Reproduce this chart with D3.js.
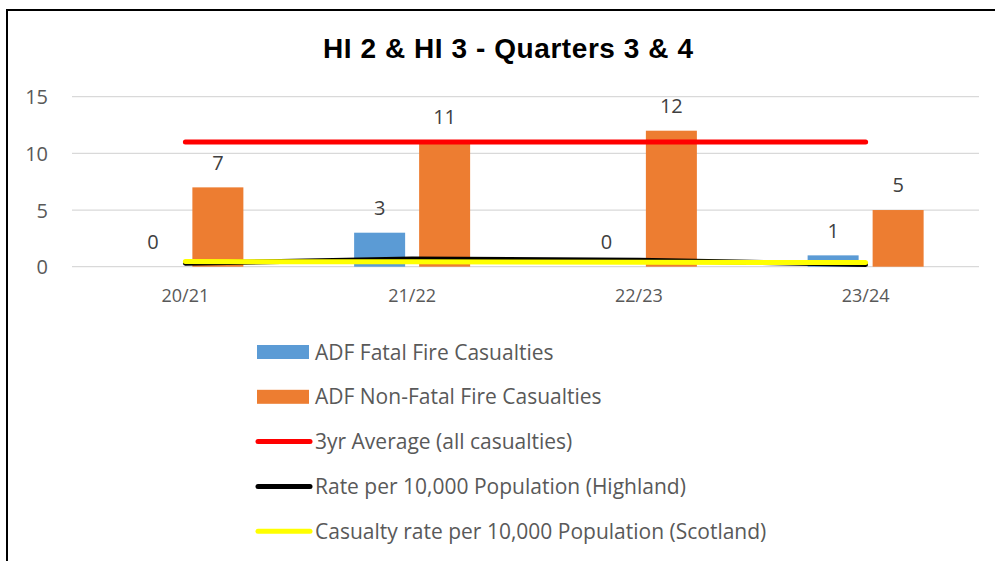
<!DOCTYPE html>
<html>
<head>
<meta charset="utf-8">
<script src="https://cdn.jsdelivr.net/npm/d3@7"></script>
<style>
  body { margin: 0; background: #fff; }
  svg { display: block; }
</style>
</head>
<body>
<svg id="chart" width="995" height="561"></svg>
<script>
// chart data
var TITLE = "HI 2 & HI 3 - Quarters 3 & 4";
var YEARS = ["20/21", "21/22", "22/23", "23/24"];
var FATAL = [0, 3, 0, 1];
var NON_FATAL = [7, 11, 12, 5];
var AVG_3YR = [11, 11, 11, 11];
var RATE_HIGHLAND = [0.3, 0.68, 0.58, 0.2];
var RATE_SCOTLAND = [0.45, 0.44, 0.4, 0.36];
var Y_TICKS = [0, 5, 10, 15];
var LEGEND = ["ADF Fatal Fire Casualties", "ADF Non-Fatal Fire Casualties",
    "3yr Average (all casualties)", "Rate per 10,000 Population (Highland)",
    "Casualty rate per 10,000 Population (Scotland)"];

var COLORS = ["#5b9bd5", "#ed7d31", "#ff0000", "#000000", "#ffff00"];
var FONT = "'Open Sans', 'Liberation Sans', sans-serif";

var svg = d3.select("#chart");

// frame (top + left edges only visible)
svg.append("line").attr("x1", 7).attr("y1", 10).attr("x2", 995).attr("y2", 10)
    .attr("stroke", "#000").attr("stroke-width", 2);
svg.append("line").attr("x1", 7).attr("y1", 9).attr("x2", 7).attr("y2", 561)
    .attr("stroke", "#000").attr("stroke-width", 2);

svg.append("text")
    .attr("x", 508).attr("y", 58)
    .attr("text-anchor", "middle")
    .style("font-family", "'Liberation Sans', Arial, sans-serif")
    .style("font-weight", "bold")
    .style("font-size", "28px")
    .attr("textLength", 370)
    .text(TITLE);

var xScale = d3.scaleBand().domain(YEARS).range([72, 979]);
var yScale = d3.scaleLinear().domain([0, 15]).range([266.7, 96.7]);
var barW = 51, gap = 14;

// gridlines
svg.append("g").selectAll("line").data(Y_TICKS).join("line")
    .attr("x1", 72).attr("x2", 979)
    .attr("y1", d => yScale(d)).attr("y2", d => yScale(d))
    .attr("stroke", "#d9d9d9").attr("stroke-width", 1.3);

// y axis labels
var yAxis = d3.axisLeft(yScale).tickValues(Y_TICKS).tickSize(0).tickPadding(0);
var ya = svg.append("g").attr("transform", "translate(48,0)").call(yAxis);
ya.select(".domain").remove();
ya.selectAll("text").attr("fill", "#595959")
    .style("font-family", FONT).style("font-size", "20px").attr("dy", "0.36em");

// x axis labels
var xAxis = d3.axisBottom(xScale).tickSize(0).tickPadding(0);
var xa = svg.append("g").attr("transform", "translate(0,289)").call(xAxis);
xa.select(".domain").remove();
xa.selectAll("text").attr("fill", "#595959")
    .style("font-family", FONT).style("font-size", "18px");

var mid = d => xScale(d) + xScale.bandwidth() / 2;

// bars
svg.append("g").selectAll("rect").data(YEARS).join("rect")
    .attr("x", d => mid(d) - gap / 2 - barW)
    .attr("y", (d, i) => yScale(FATAL[i]))
    .attr("width", barW)
    .attr("height", (d, i) => yScale(0) - yScale(FATAL[i]))
    .attr("fill", COLORS[0]);
svg.append("g").selectAll("rect").data(YEARS).join("rect")
    .attr("x", d => mid(d) + gap / 2)
    .attr("y", (d, i) => yScale(NON_FATAL[i]))
    .attr("width", barW)
    .attr("height", (d, i) => yScale(0) - yScale(NON_FATAL[i]))
    .attr("fill", COLORS[1]);

// lines
var line = d3.line().x((d, i) => mid(YEARS[i])).y(d => yScale(d));
[[AVG_3YR, COLORS[2]], [RATE_HIGHLAND, COLORS[3]], [RATE_SCOTLAND, COLORS[4]]].forEach(s => {
    svg.append("path").datum(s[0])
        .attr("d", line)
        .attr("fill", "none")
        .attr("stroke", s[1])
        .attr("stroke-width", 5)
        .attr("stroke-linecap", "round")
        .attr("stroke-linejoin", "round");
});

// data labels
var lbl = svg.append("g").style("font-family", FONT).style("font-size", "20px")
    .attr("fill", "#404040").attr("text-anchor", "middle");
lbl.selectAll(".f").data(YEARS).join("text").attr("class", "f")
    .attr("x", d => mid(d) - gap / 2 - barW / 2)
    .attr("y", (d, i) => yScale(FATAL[i]) - 25)
    .attr("dy", "0.36em")
    .text((d, i) => FATAL[i]);
lbl.selectAll(".n").data(YEARS).join("text").attr("class", "n")
    .attr("x", d => mid(d) + gap / 2 + barW / 2)
    .attr("y", (d, i) => yScale(NON_FATAL[i]) - 25)
    .attr("dy", "0.36em")
    .text((d, i) => NON_FATAL[i]);

// legend
var leg = svg.append("g").selectAll("g").data(LEGEND).join("g")
    .attr("transform", (d, i) => `translate(257, ${352 + i * 44.8})`);
leg.each(function(d, i) {
    var g = d3.select(this);
    if (i < 2) {
        g.append("rect").attr("x", 0).attr("y", -7).attr("width", 52).attr("height", 14)
            .attr("fill", COLORS[i]);
    } else {
        g.append("line").attr("x1", 1).attr("x2", 53).attr("y1", 0).attr("y2", 0)
            .attr("stroke", COLORS[i]).attr("stroke-width", 5).attr("stroke-linecap", "round");
    }
    g.append("text").attr("x", 58).attr("dy", "0.36em")
        .attr("fill", "#595959")
        .style("font-family", FONT).style("font-size", "21px")
        .text(d);
});
</script>
</body>
</html>
